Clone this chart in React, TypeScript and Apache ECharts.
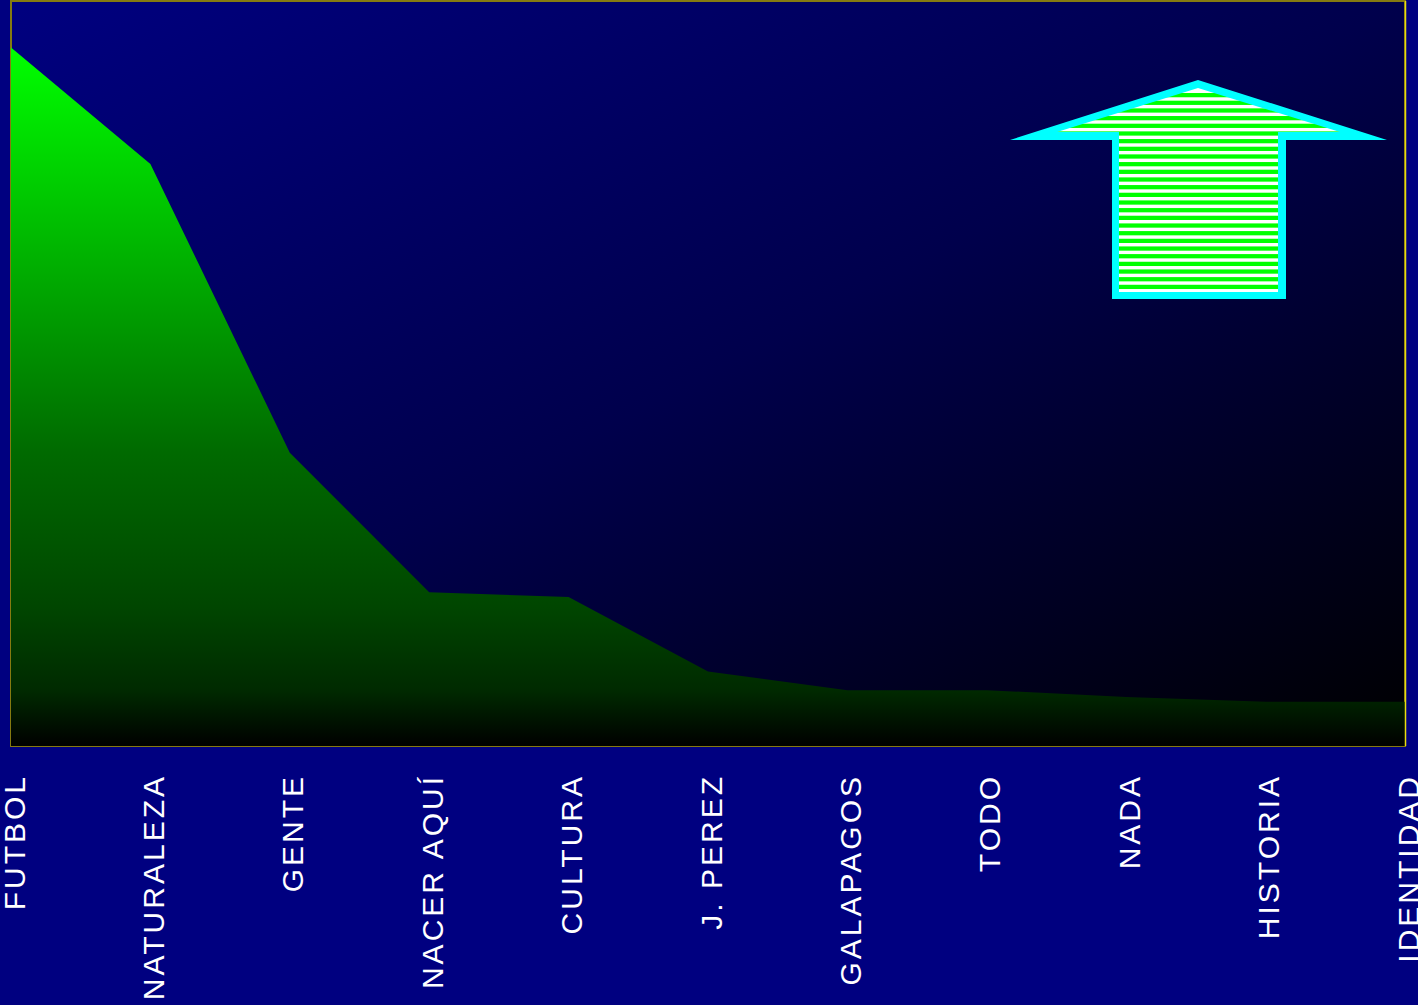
import React, { useEffect, useRef } from "react";
import * as echarts from "echarts";

const categories = [
  "FUTBOL",
  "NATURALEZA",
  "GENTE",
  "NACER AQUÍ",
  "CULTURA",
  "J. PEREZ",
  "GALAPAGOS",
  "TODO",
  "NADA",
  "HISTORIA",
  "IDENTIDAD",
];
const values = [150, 125, 63, 33, 32, 16, 12, 12, 10.5, 9.5, 9.5];
const yMin = 0;
const yMax = 160;

function stripeStops(top: number, height: number, firstWhite: number, period: number) {
  const stops: { offset: number; color: string }[] = [];
  const toOff = (y: number) => Math.min(1, Math.max(0, (y - top) / height));
  let c = firstWhite;
  while (c - period > top) c -= period;
  const push = (y: number, color: string) => {
    const o = toOff(y);
    if (stops.length && o < stops[stops.length - 1].offset) return;
    stops.push({ offset: o, color });
  };
  for (; c - 1.2 < top + height; c += period) {
    push(c - 1.2, "#ffffff");
    push(c + 1.2, "#ffffff");
    push(c + 2.2, "#00ff00");
    push(c + period - 2.2, "#00ff00");
  }
  if (!stops.length) stops.push({ offset: 0, color: "#00ff00" });
  return stops;
}

export default function App() {
  const ref = useRef<HTMLDivElement>(null);
  useEffect(() => {
    if (!ref.current) return;
    const chart = echarts.init(ref.current, undefined, { renderer: "svg" });
    const innerTop = 88;
    const innerH = 292 - 88;
    chart.setOption({
      animation: false,
      backgroundColor: "#000080",
      grid: {
        left: 11,
        right: 13,
        top: 1,
        bottom: 259,
        containLabel: false,
        outerBoundsMode: "none",
        show: true,
        backgroundColor: new echarts.graphic.LinearGradient(0, 0, 1, 1, [
          { offset: 0, color: "#000080" },
          { offset: 0.5, color: "#00004c" },
          { offset: 1, color: "#000000" },
        ]),
        borderColor: "#857a10",
        borderWidth: 2,
      },
      xAxis: {
        type: "category",
        data: categories,
        boundaryGap: false,
        axisLine: { show: false },
        axisTick: { show: false },
        splitLine: { show: false },
        axisLabel: {
          interval: 0,
          rotate: 90,
          margin: 28,
          verticalAlign: "top",
          lineHeight: 6,
          color: "#ffffff",
          fontSize: 30,
          fontFamily: "Liberation Sans",
        },
      },
      yAxis: {
        type: "value",
        min: yMin,
        max: yMax,
        show: false,
        splitLine: { show: false },
      },
      series: [
        {
          type: "line",
          data: values,
          showSymbol: false,
          symbol: "none",
          lineStyle: { width: 0 },
          areaStyle: {
            opacity: 1,
            color: new echarts.graphic.LinearGradient(0, 0, 0, 1, [
              { offset: 0, color: "#00ff00" },
              { offset: 0.58, color: "#006a00" },
              { offset: 0.8, color: "#004600" },
              { offset: 0.92, color: "#002a00" },
              { offset: 1, color: "#000000" },
            ]),
          },
        },
      ],
      graphic: [
        {
          type: "line",
          shape: { x1: 1405.5, y1: 1, x2: 1405.5, y2: 746 },
          style: { stroke: "#e8dc10", lineWidth: 1.5 },
          z: 10,
        },
        {
          type: "polygon",
          shape: {
            points: [
              [1198, 80],
              [1387, 140],
              [1286, 140],
              [1286, 299],
              [1112, 299],
              [1112, 140],
              [1010, 140],
            ],
          },
          style: { fill: "#00ffff" },
          z: 10,
        },
        {
          type: "polygon",
          shape: {
            points: [
              [1198, 88],
              [1340, 132],
              [1278, 132],
              [1278, 292],
              [1119, 292],
              [1119, 132],
              [1057, 132],
            ],
          },
          style: {
            fill: new echarts.graphic.LinearGradient(
              0,
              0,
              0,
              1,
              stripeStops(innerTop, innerH, 145, 7.67)
            ),
          },
          z: 11,
        },
      ],
    });
    return () => chart.dispose();
  }, []);
  return (
    <div>
      <style>{`body{margin:0;background:#000080;} .cx svg text{letter-spacing:3px;}`}</style>
      <div
        ref={ref}
        className="cx"
        style={{ position: "fixed", left: 0, top: 0, width: 1418, height: 1005 }}
      />
    </div>
  );
}
